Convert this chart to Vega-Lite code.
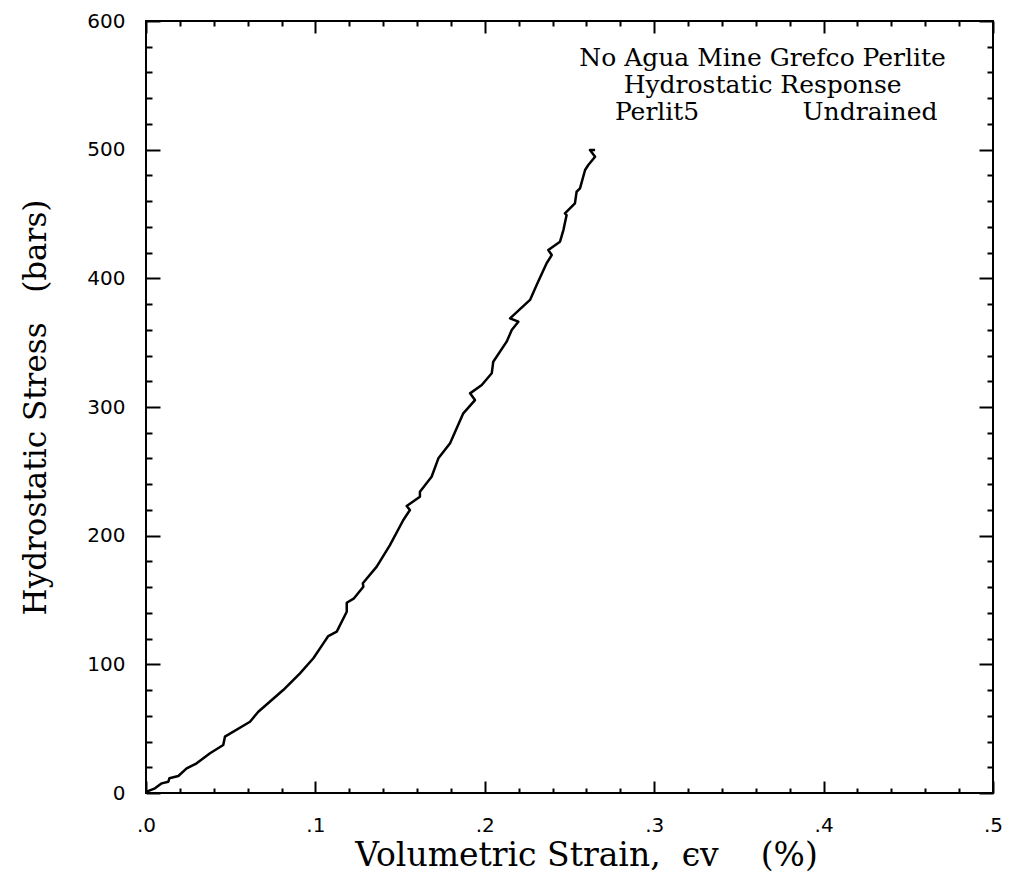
{
  "$schema": "https://vega.github.io/schema/vega-lite/v6.json",
  "width": 847,
  "height": 772,
  "autosize": "none",
  "padding": {"left": 146, "top": 21, "right": 16, "bottom": 102},
  "background": "white",
  "config": {
    "view": {"stroke": "black", "strokeWidth": 2},
    "axis": {"domain": false, "tickColor": "black", "tickWidth": 2, "grid": false, "labelColor": "black", "titleColor": "black"}
  },
  "datasets": {
    "curve": [
      {"i": 0, "strain": 0, "stress": 0},
      {"i": 1, "strain": 0.0004, "stress": 1},
      {"i": 2, "strain": 0.0053, "stress": 3.6},
      {"i": 3, "strain": 0.0093, "stress": 7.5},
      {"i": 4, "strain": 0.0132, "stress": 8.8},
      {"i": 5, "strain": 0.0138, "stress": 11.4},
      {"i": 6, "strain": 0.0191, "stress": 13.2},
      {"i": 7, "strain": 0.024, "stress": 19.2},
      {"i": 8, "strain": 0.0299, "stress": 23.1},
      {"i": 9, "strain": 0.0378, "stress": 30.9},
      {"i": 10, "strain": 0.0456, "stress": 37.3},
      {"i": 11, "strain": 0.0466, "stress": 43.8},
      {"i": 12, "strain": 0.0614, "stress": 55.4},
      {"i": 13, "strain": 0.0663, "stress": 63.2},
      {"i": 14, "strain": 0.081, "stress": 80},
      {"i": 15, "strain": 0.0909, "stress": 93},
      {"i": 16, "strain": 0.0988, "stress": 104.7},
      {"i": 17, "strain": 0.1047, "stress": 116.3},
      {"i": 18, "strain": 0.1076, "stress": 122},
      {"i": 19, "strain": 0.1126, "stress": 125.4},
      {"i": 20, "strain": 0.1185, "stress": 140.9},
      {"i": 21, "strain": 0.1185, "stress": 147.9},
      {"i": 22, "strain": 0.1228, "stress": 151.3},
      {"i": 23, "strain": 0.1283, "stress": 160.3},
      {"i": 24, "strain": 0.128, "stress": 163},
      {"i": 25, "strain": 0.1362, "stress": 175.9},
      {"i": 26, "strain": 0.144, "stress": 192.7},
      {"i": 27, "strain": 0.1519, "stress": 212.2},
      {"i": 28, "strain": 0.1558, "stress": 219.9},
      {"i": 29, "strain": 0.1539, "stress": 223},
      {"i": 30, "strain": 0.1617, "stress": 230.3},
      {"i": 31, "strain": 0.1617, "stress": 234.2},
      {"i": 32, "strain": 0.1686, "stress": 245.8},
      {"i": 33, "strain": 0.1726, "stress": 260.1},
      {"i": 34, "strain": 0.1795, "stress": 271.8},
      {"i": 35, "strain": 0.1873, "stress": 295.1},
      {"i": 36, "strain": 0.1942, "stress": 305.4},
      {"i": 37, "strain": 0.1913, "stress": 310.6},
      {"i": 38, "strain": 0.1982, "stress": 317.1},
      {"i": 39, "strain": 0.2041, "stress": 326.2},
      {"i": 40, "strain": 0.205, "stress": 335.2},
      {"i": 41, "strain": 0.2129, "stress": 350.8},
      {"i": 42, "strain": 0.2159, "stress": 359.8},
      {"i": 43, "strain": 0.2198, "stress": 366.3},
      {"i": 44, "strain": 0.2149, "stress": 368.9},
      {"i": 45, "strain": 0.2267, "stress": 383.2},
      {"i": 46, "strain": 0.2306, "stress": 394.8},
      {"i": 47, "strain": 0.2365, "stress": 411.7},
      {"i": 48, "strain": 0.2395, "stress": 418.1},
      {"i": 49, "strain": 0.2375, "stress": 422},
      {"i": 50, "strain": 0.2444, "stress": 428.5},
      {"i": 51, "strain": 0.2464, "stress": 437.5},
      {"i": 52, "strain": 0.2483, "stress": 449.2},
      {"i": 53, "strain": 0.2473, "stress": 450.5},
      {"i": 54, "strain": 0.2532, "stress": 458.3},
      {"i": 55, "strain": 0.2542, "stress": 467.3},
      {"i": 56, "strain": 0.2562, "stress": 469.9},
      {"i": 57, "strain": 0.2592, "stress": 484.2},
      {"i": 58, "strain": 0.2611, "stress": 488.1},
      {"i": 59, "strain": 0.2651, "stress": 494.5},
      {"i": 60, "strain": 0.2621, "stress": 499.7},
      {"i": 61, "strain": 0.2651, "stress": 499.7}
    ],
    "notes": [
      {"strain": 0.364, "stress": 571, "text": "No Agua Mine Grefco Perlite"},
      {"strain": 0.364, "stress": 550, "text": "Hydrostatic Response"},
      {"strain": 0.3017, "stress": 529, "text": "Perlit5"},
      {"strain": 0.4274, "stress": 529, "text": "Undrained"}
    ]
  },
  "layer": [
    {
      "data": {"name": "curve"},
      "mark": {"type": "line", "color": "black", "strokeWidth": 2.5, "strokeJoin": "round"},
      "encoding": {
        "x": {
          "field": "strain", "type": "quantitative",
          "scale": {"domain": [0, 0.5], "nice": false, "zero": false},
          "axis": {
            "orient": "bottom", "offset": -12,
            "values": [0, 0.02, 0.04, 0.06, 0.08, 0.1, 0.12, 0.14, 0.16, 0.18, 0.2, 0.22, 0.24, 0.26, 0.28, 0.3, 0.32, 0.34, 0.36, 0.38, 0.4, 0.42, 0.44, 0.46, 0.48, 0.5],
            "tickSize": 12,
            "tickDash": {"condition": {"test": "abs(datum.value*10 - round(datum.value*10)) < 0.000001", "value": [20, 0]}, "value": [0, 7, 5, 30]},
            "labelExpr": "abs(datum.value*10 - round(datum.value*10)) < 0.000001 ? replace(format(datum.value, '.1f'), '0.', '.') : ''",
            "labelFont": "DejaVu Sans", "labelFontSize": 20, "labelPadding": 22,
            "labelFlush": false, "labelOverlap": false,
            "title": "Volumetric Strain,\u00a0\u00a0\u03f5v\u00a0\u00a0\u00a0\u00a0(%)",
            "titleFont": "DejaVu Serif", "titleFontSize": 33, "titleFontWeight": "normal", "titlePadding": 4,
            "titleX": 440
          }
        },
        "y": {
          "field": "stress", "type": "quantitative",
          "scale": {"domain": [0, 600], "nice": false},
          "axis": {
            "orient": "left", "offset": -14,
            "values": [0, 20, 40, 60, 80, 100, 120, 140, 160, 180, 200, 220, 240, 260, 280, 300, 320, 340, 360, 380, 400, 420, 440, 460, 480, 500, 520, 540, 560, 580, 600],
            "tickSize": 14,
            "tickDash": {"condition": {"test": "datum.value % 100 === 0", "value": [20, 0]}, "value": [0, 8, 6, 30]},
            "labelExpr": "datum.value % 100 === 0 ? datum.label : ''",
            "labelFont": "DejaVu Sans", "labelFontSize": 20, "labelPadding": 21,
            "labelFlush": false, "labelOverlap": false,
            "title": "Hydrostatic Stress\u00a0\u00a0\u00a0(bars)",
            "titleFont": "DejaVu Serif", "titleFontSize": 31, "titleFontWeight": "normal", "titlePadding": 34
          }
        },
        "order": {"field": "i", "type": "quantitative"}
      }
    },
    {
      "data": {"name": "notes"},
      "mark": {"type": "text", "font": "DejaVu Serif", "fontSize": 25, "color": "black", "align": "center", "baseline": "middle"},
      "encoding": {
        "x": {
          "field": "strain", "type": "quantitative",
          "scale": {"domain": [0, 0.5], "nice": false, "zero": false},
          "axis": {
            "orient": "top", "offset": -12, "labels": false, "title": null,
            "values": [0, 0.02, 0.04, 0.06, 0.08, 0.1, 0.12, 0.14, 0.16, 0.18, 0.2, 0.22, 0.24, 0.26, 0.28, 0.3, 0.32, 0.34, 0.36, 0.38, 0.4, 0.42, 0.44, 0.46, 0.48, 0.5],
            "tickSize": 12,
            "tickDash": {"condition": {"test": "abs(datum.value*10 - round(datum.value*10)) < 0.000001", "value": [20, 0]}, "value": [0, 7, 5, 30]}
          }
        },
        "y": {
          "field": "stress", "type": "quantitative",
          "scale": {"domain": [0, 600], "nice": false},
          "axis": {
            "orient": "right", "offset": -14, "labels": false, "title": null,
            "values": [0, 20, 40, 60, 80, 100, 120, 140, 160, 180, 200, 220, 240, 260, 280, 300, 320, 340, 360, 380, 400, 420, 440, 460, 480, 500, 520, 540, 560, 580, 600],
            "tickSize": 14,
            "tickDash": {"condition": {"test": "datum.value % 100 === 0", "value": [20, 0]}, "value": [0, 8, 6, 30]}
          }
        },
        "text": {"field": "text", "type": "nominal"}
      }
    }
  ]
}
